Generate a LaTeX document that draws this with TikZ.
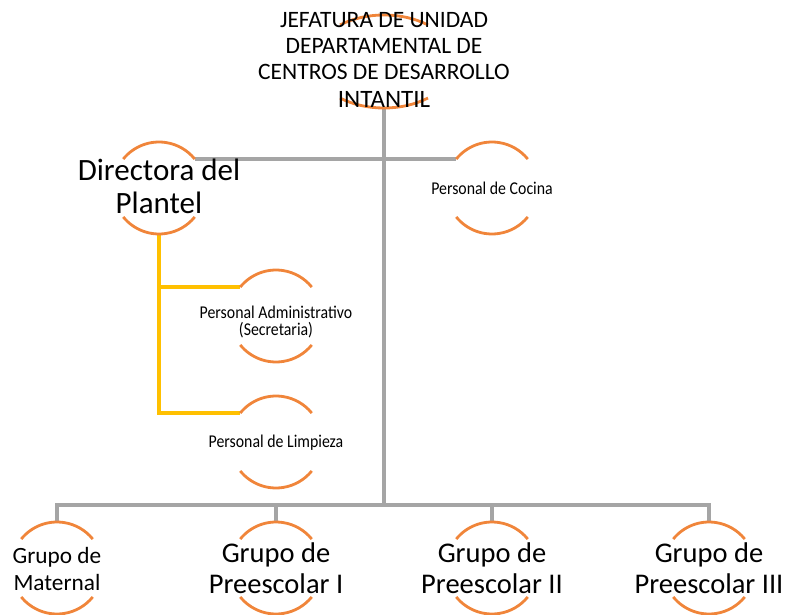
\documentclass[tikz,border=0pt]{standalone}
\usepackage{fontspec}
\usetikzlibrary{calc}
\setmainfont{Carlito}
\newfontfamily\smallfnt[FakeStretch=0.88]{Carlito}
\definecolor{arcor}{HTML}{F0853A}
\definecolor{conngray}{HTML}{A5A5A5}
\definecolor{connyel}{HTML}{FFC000}
\tikzset{
  ring/.style={circle, minimum size=92pt, inner sep=0pt, outer sep=0pt},
  wide/.style={rectangle, minimum width=142pt, minimum height=93pt, inner sep=0pt, outer sep=0pt},
  arcline/.style={draw=arcor, line width=2.8pt},
  grayconn/.style={draw=conngray, line width=3.2pt},
  trunkconn/.style={draw=conngray, line width=3.8pt},
  yelconn/.style={draw=connyel, line width=3.2pt},
  lbl/.style={align=center, inner sep=0pt, outer sep=0pt, anchor=base, text=black},
  topfont/.style={font=\fontsize{23.5}{26}\selectfont},
  dirfont/.style={font=\fontsize{31}{33}\selectfont},
  smallfontstyle/.style={font=\smallfnt\fontsize{18}{16.7}\selectfont},
  matfont/.style={font=\fontsize{23.3}{27}\selectfont},
  prefont/.style={font=\fontsize{28.5}{31}\selectfont},
}
\begin{document}
\begin{tikzpicture}[x=1pt,y=1pt]
\useasboundingbox (0,0) rectangle (787,-615);
% shapes (invisible holders for the arcs)
\node[wide] (jef) at (384,-61.5) {};
\node[ring] (dir) at (159,-188) {};
\node[ring] (coc) at (492,-188) {};
\node[ring] (adm) at (276,-316) {};
\node[ring] (lim) at (276,-442) {};
\node[ring] (mat) at (57,-568) {};
\node[ring] (pa) at (276,-568) {};
\node[ring] (pb) at (492,-568) {};
\node[ring] (pc) at (709,-568) {};
\coordinate (bus) at (384,-505);
% connectors
\draw[trunkconn] (jef.south) -- (bus);
\foreach \n in {mat,pa,pb,pc} \draw[grayconn] (bus) -| (\n.north);
\draw[grayconn] (dir.39) -- (coc.141);
\draw[yelconn] (dir.south) |- (adm.141);
\draw[yelconn] (dir.south) |- (lim.141);
% arcs
\draw[arcline] ($(jef.center)+(-44,36.5)$) arc[start angle=128.3, end angle=51.7, x radius=71pt, y radius=46.5pt];
\draw[arcline] ($(jef.center)+(-44,-36.5)$) arc[start angle=231.7, end angle=308.3, x radius=71pt, y radius=46.5pt];
\foreach \n in {dir,coc,adm,lim,mat,pa,pb,pc}{
  \draw[arcline] (\n.141) arc[start angle=141, end angle=39, radius=46pt];
  \draw[arcline] (\n.219) arc[start angle=219, end angle=321, radius=46pt];
}
% texts (anchor=base is the baseline of the last line)
\node[lbl,topfont] (jefT) at (384,-108) {JEFATURA DE UNIDAD\\DEPARTAMENTAL DE\\CENTROS DE DESARROLLO\\[2pt]{\fontsize{25}{28}\selectfont INTANTIL}};
\node[lbl,dirfont] (dirT) at (159,-213) {Directora del\\Plantel};
\node[lbl,smallfontstyle] (cocT) at (492,-194) {Personal de Cocina};
\node[lbl,smallfontstyle] (admT) at (276,-335) {Personal Administrativo\\(Secretaria)};
\node[lbl,smallfontstyle] (limT) at (276,-447) {Personal de Limpieza};
\node[lbl,matfont] (matT) at (57,-590) {Grupo de\\Maternal};
\node[lbl,prefont] (paT) at (276,-593) {Grupo de\\Preescolar I};
\node[lbl,prefont] (pbT) at (492,-593) {Grupo de\\Preescolar II};
\node[lbl,prefont] (pcT) at (709,-593) {Grupo de\\Preescolar III};
\end{tikzpicture}
\end{document}
